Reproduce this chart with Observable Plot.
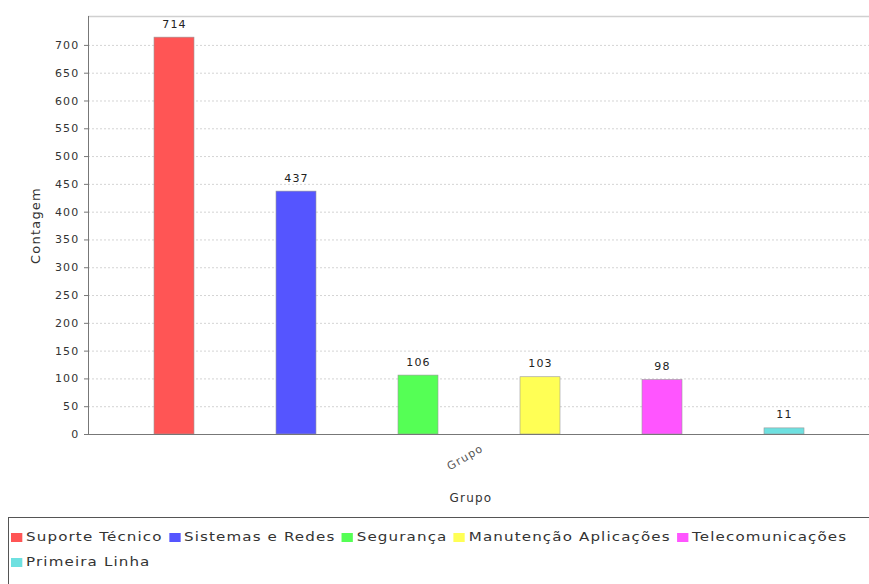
<!DOCTYPE html>
<html>
<head>
<meta charset="utf-8">
<script src="https://cdn.jsdelivr.net/npm/d3@7"></script>
<script src="https://cdn.jsdelivr.net/npm/@observablehq/plot@0.6"></script>
<style>
  body { margin: 0; background: #fff; font-family: "DejaVu Sans", sans-serif; overflow: hidden; }
  #chart svg text { letter-spacing: 1.2px; }
  #legend {
    margin-left: 8px; margin-top: 7px; width: 900px; height: 80px;
    border: 1px solid #555; box-sizing: border-box; overflow: hidden;
    padding: 11px 0 0 2px; font-size: 12px; color: #333; letter-spacing: 0.9px;
  }
  #legend .items { display: flex; flex-wrap: nowrap; row-gap: 8px; transform-origin: 0 0; white-space: nowrap; }
  #legend .item { display: flex; align-items: center; margin-right: 5px; line-height: 17px; flex: none; }
  #legend .sw { width: 9px; height: 9px; margin-right: 3px; }
</style>
</head>
<body>
<div id="chart"></div>
<div id="legend"><div class="items"></div></div>
<script>
const groups = ["Suporte Técnico", "Sistemas e Redes", "Segurança", "Manutenção Aplicações", "Telecomunicações", "Primeira Linha"];
const counts = [714, 437, 106, 103, 98, 11];
const colors = ["#ff5555", "#5555ff", "#55ff55", "#ffff55", "#ff55ff", "#6ee0e0"];
const yTicks = [0, 50, 100, 150, 200, 250, 300, 350, 400, 450, 500, 550, 600, 650, 700];
const categoryLabel = "Grupo";
const xTitle = "Grupo";
const yTitle = "Contagem";
const yMax = 752;

const data = groups.map((g, i) => ({g, v: counts[i]}));

const chart = Plot.plot({
  width: 869, height: 510,
  marginLeft: 88, marginRight: 0, marginTop: 16, marginBottom: 76,
  style: {fontFamily: "DejaVu Sans, sans-serif", fontSize: "11px", color: "#333"},
  x: {domain: groups, paddingInner: 0.674, paddingOuter: 0.52, axis: null},
  y: {domain: [0, yMax], axis: null},
  color: {domain: groups, range: colors},
  marks: [
    Plot.gridY(yTicks.slice(1), {stroke: "#d4d4d4", strokeOpacity: 1, strokeDasharray: "2,2"}),
    Plot.ruleY([yMax], {stroke: "#d0d0d0", strokeWidth: 1.5}),
    Plot.barY(data, {x: "g", y: "v", fill: "g", stroke: "#999", strokeWidth: 0.6}),
    Plot.text(data, {x: "g", y: "v", text: d => String(d.v), dy: -10, lineAnchor: "bottom", fill: "#222"}),
    Plot.axisY({ticks: yTicks, tickSize: 4, tickPadding: 5, label: null, stroke: "#777", fill: "#333"}),
    Plot.frame({anchor: "left", stroke: "#777"}),
    Plot.ruleY([0], {stroke: "#777"}),
    Plot.text([categoryLabel], {text: d => d, frameAnchor: "bottom", dx: -12, dy: 26, rotate: -30, fill: "#555", fontSize: 11}),
    Plot.text([xTitle], {text: d => d, frameAnchor: "bottom", dx: -8, dy: 67, fill: "#333", fontSize: 12}),
    Plot.text([yTitle], {text: d => d, frameAnchor: "left", textAnchor: "middle", dx: -53, rotate: -90, fill: "#333", fontSize: 13})
  ]
});
document.getElementById("chart").appendChild(chart);

const items = document.querySelector("#legend .items");
const els = groups.map((g, i) => {
  const it = document.createElement("div");
  it.className = "item";
  const sw = document.createElement("span");
  sw.className = "sw";
  sw.style.background = colors[i];
  const t = document.createElement("span");
  t.textContent = g;
  it.appendChild(sw); it.appendChild(t);
  items.appendChild(it);
  return it;
});
// stretch legend glyphs horizontally like the reference; first five items on row one
const fifth = els[4];
const w5 = fifth.offsetLeft + fifth.offsetWidth - items.offsetLeft;
const scale = 837 / w5;
items.style.width = (w5 + 6) + "px";
items.style.flexWrap = "wrap";
items.style.transform = `scaleX(${scale})`;
</script>
</body>
</html>
